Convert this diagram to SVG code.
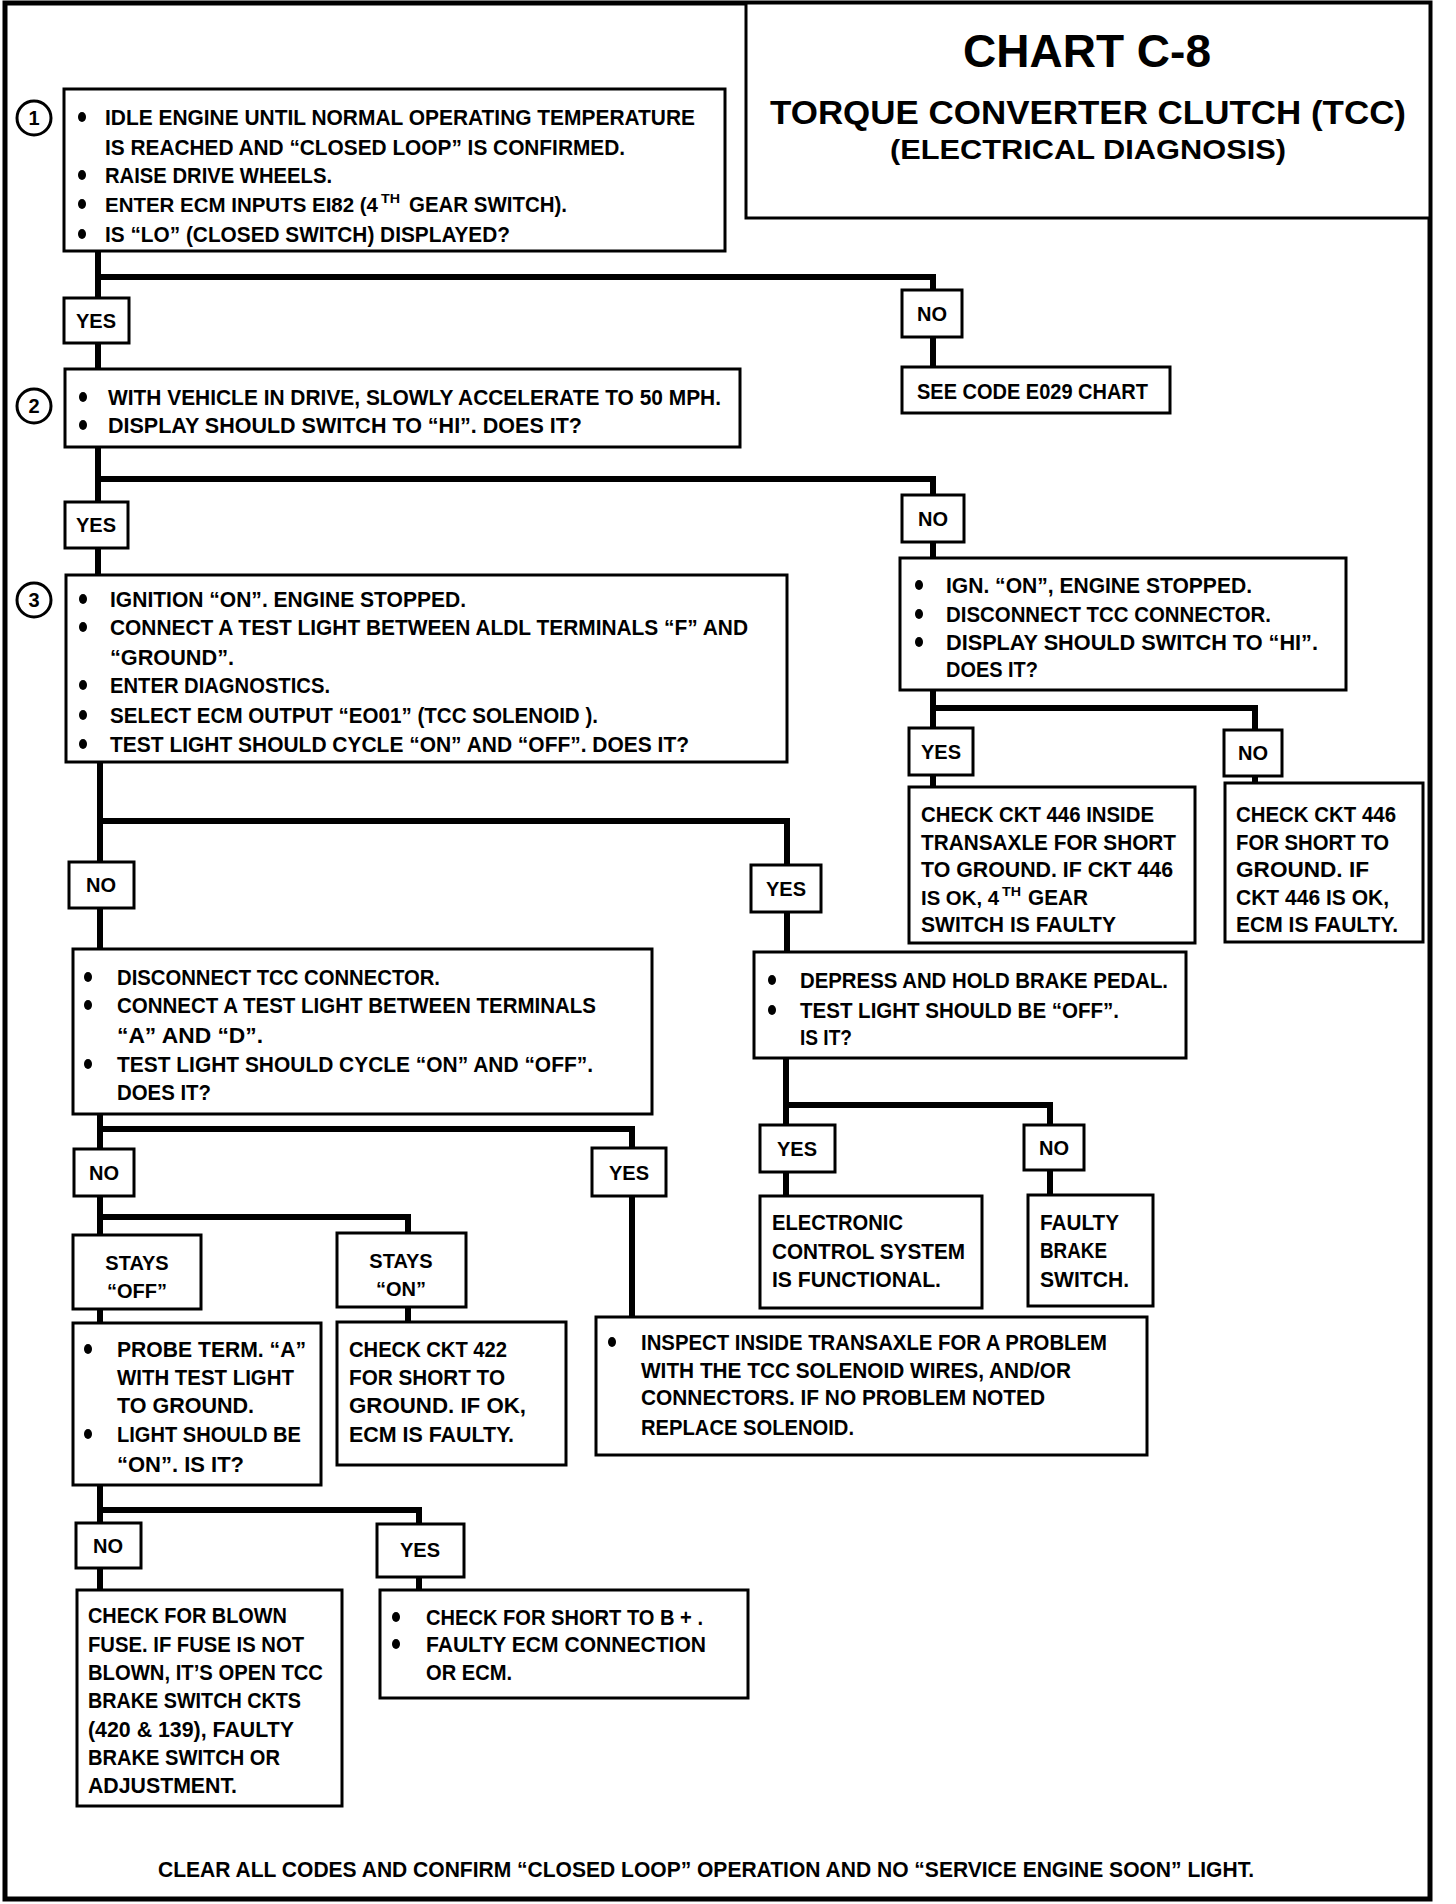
<svg xmlns="http://www.w3.org/2000/svg" width="1456" height="1904" viewBox="0 0 1456 1904">
<style>
.b{fill:#fff;stroke:#000;stroke-width:3}
.c{fill:none;stroke:#000;stroke-width:6;stroke-linecap:square}
text{font-family:"Liberation Sans",Arial,sans-serif;font-weight:bold;font-size:22px;fill:#000}
.l{font-size:20px;text-anchor:middle}
.n{font-size:20px;text-anchor:middle}
.sup{font-size:13px}
</style>
<defs>
<ellipse id="bu" cx="0" cy="0" rx="4" ry="5" fill="#000"/>
</defs>
<rect x="0" y="0" width="1456" height="1904" fill="#fff"/>
<rect x="5" y="3" width="1425" height="1896" fill="none" stroke="#000" stroke-width="5"/>

<g id="connectors">
<path class="c" d="M98,251 V298 M98,277 H933 V290 M98,343 V369 M933,337 V367"/>
<path class="c" d="M98,447 V502 M98,479 H933 V495 M98,548 V575 M933,542 V558"/>
<path class="c" d="M933,690 V728 M933,708 H1255 V730 M933,775 V787 M1255,776 V783"/>
<path class="c" d="M100,762 V862 M100,821 H787 V865 M787,912 V952"/>
<path class="c" d="M786,1058 V1125 M786,1105 H1050 V1125 M786,1172 V1196 M1050,1170 V1195"/>
<path class="c" d="M100,908 V949 M100,1114 V1149 M100,1129 H632 V1148 M632,1196 V1317"/>
<path class="c" d="M100,1196 V1235 M100,1217 H408 V1233 M100,1309 V1323 M408,1307 V1322"/>
<path class="c" d="M100,1485 V1523 M100,1510 H419 V1524 M100,1568 V1590 M419,1577 V1590"/>
</g>

<g id="title">
<rect class="b" x="746" y="3" width="684" height="215"/>
<text x="963" y="67" textLength="248" lengthAdjust="spacingAndGlyphs" style="font-size:46px">CHART C-8</text>
<text x="770" y="124" style="font-size:34px" textLength="636" lengthAdjust="spacingAndGlyphs">TORQUE CONVERTER CLUTCH (TCC)</text>
<text x="890" y="159" style="font-size:28px" textLength="396" lengthAdjust="spacingAndGlyphs">(ELECTRICAL DIAGNOSIS)</text>
</g>

<g id="step1">
<circle cx="34" cy="118" r="17" fill="#fff" stroke="#000" stroke-width="3"/>
<text class="n" x="34" y="125">1</text>
<rect class="b" x="64" y="89" width="661" height="162"/>
<use href="#bu" x="82" y="117"/><use href="#bu" x="82" y="175"/><use href="#bu" x="82" y="204"/><use href="#bu" x="82" y="234"/>
<text x="105" y="125" textLength="590" lengthAdjust="spacingAndGlyphs">IDLE ENGINE UNTIL NORMAL OPERATING TEMPERATURE</text>
<text x="105" y="155" textLength="520" lengthAdjust="spacingAndGlyphs">IS REACHED AND “CLOSED LOOP” IS CONFIRMED.</text>
<text x="105" y="183" textLength="227" lengthAdjust="spacingAndGlyphs">RAISE DRIVE WHEELS.</text>
<text x="105" y="212" style="font-size:20.4px" textLength="273" lengthAdjust="spacingAndGlyphs">ENTER ECM INPUTS EI82 (4</text>
<text class="sup" x="381" y="203" textLength="19" lengthAdjust="spacingAndGlyphs">TH</text>
<text x="409" y="212" textLength="158" lengthAdjust="spacingAndGlyphs">GEAR SWITCH).</text>
<text x="105" y="242" textLength="405" lengthAdjust="spacingAndGlyphs">IS “LO” (CLOSED SWITCH) DISPLAYED?</text>
</g>

<g id="yes1"><rect class="b" x="64" y="298" width="65" height="45"/><text class="l" x="96" y="328">YES</text></g>
<g id="no1"><rect class="b" x="902" y="290" width="60" height="47"/><text class="l" x="932" y="321">NO</text></g>
<g id="seecode"><rect class="b" x="902" y="367" width="268" height="46"/><text x="917" y="399" textLength="231" lengthAdjust="spacingAndGlyphs">SEE CODE E029 CHART</text></g>

<g id="step2">
<circle cx="34" cy="406" r="17" fill="#fff" stroke="#000" stroke-width="3"/>
<text class="n" x="34" y="413">2</text>
<rect class="b" x="65" y="369" width="675" height="78"/>
<use href="#bu" x="83" y="397"/><use href="#bu" x="83" y="425"/>
<text x="108" y="405" textLength="613" lengthAdjust="spacingAndGlyphs">WITH VEHICLE IN DRIVE, SLOWLY ACCELERATE TO 50 MPH.</text>
<text x="108" y="433" textLength="474" lengthAdjust="spacingAndGlyphs">DISPLAY SHOULD  SWITCH TO “HI”. DOES IT?</text>
</g>

<g id="yes2"><rect class="b" x="65" y="502" width="63" height="46"/><text class="l" x="96" y="532">YES</text></g>
<g id="no2"><rect class="b" x="902" y="495" width="62" height="47"/><text class="l" x="933" y="526">NO</text></g>

<g id="ignon">
<rect class="b" x="900" y="558" width="446" height="132"/>
<use href="#bu" x="919" y="585"/><use href="#bu" x="919" y="614"/><use href="#bu" x="919" y="642"/>
<text x="946" y="593" textLength="306" lengthAdjust="spacingAndGlyphs">IGN. “ON”, ENGINE STOPPED.</text>
<text x="946" y="622" textLength="325" lengthAdjust="spacingAndGlyphs">DISCONNECT TCC CONNECTOR.</text>
<text x="946" y="650" textLength="372" lengthAdjust="spacingAndGlyphs">DISPLAY SHOULD  SWITCH TO “HI”.</text>
<text x="946" y="677" textLength="92" lengthAdjust="spacingAndGlyphs">DOES IT?</text>
</g>

<g id="yes3"><rect class="b" x="909" y="728" width="64" height="47"/><text class="l" x="941" y="759">YES</text></g>
<g id="no3"><rect class="b" x="1224" y="730" width="58" height="46"/><text class="l" x="1253" y="760">NO</text></g>

<g id="ckt446a">
<rect class="b" x="909" y="787" width="286" height="156"/>
<text x="921" y="822" textLength="233" lengthAdjust="spacingAndGlyphs">CHECK CKT 446 INSIDE</text>
<text x="921" y="850" textLength="255" lengthAdjust="spacingAndGlyphs">TRANSAXLE FOR  SHORT</text>
<text x="921" y="877" textLength="252" lengthAdjust="spacingAndGlyphs">TO GROUND.  IF CKT 446</text>
<text x="921" y="905" style="font-size:20.4px" textLength="78" lengthAdjust="spacingAndGlyphs">IS OK, 4</text>
<text class="sup" x="1002" y="896" textLength="19" lengthAdjust="spacingAndGlyphs">TH</text>
<text x="1028" y="905" textLength="60" lengthAdjust="spacingAndGlyphs">GEAR</text>
<text x="921" y="932" textLength="195" lengthAdjust="spacingAndGlyphs">SWITCH IS FAULTY</text>
</g>

<g id="ckt446b">
<rect class="b" x="1225" y="783" width="198" height="159"/>
<text x="1236" y="822" textLength="160" lengthAdjust="spacingAndGlyphs">CHECK CKT 446</text>
<text x="1236" y="850" textLength="153" lengthAdjust="spacingAndGlyphs">FOR SHORT TO</text>
<text x="1236" y="877" textLength="133" lengthAdjust="spacingAndGlyphs">GROUND.  IF</text>
<text x="1236" y="905" textLength="153" lengthAdjust="spacingAndGlyphs">CKT 446 IS OK,</text>
<text x="1236" y="932" textLength="162" lengthAdjust="spacingAndGlyphs">ECM IS FAULTY.</text>
</g>

<g id="step3">
<circle cx="34" cy="600" r="17" fill="#fff" stroke="#000" stroke-width="3"/>
<text class="n" x="34" y="607">3</text>
<rect class="b" x="66" y="575" width="721" height="187"/>
<use href="#bu" x="83" y="599"/><use href="#bu" x="83" y="627"/><use href="#bu" x="83" y="685"/><use href="#bu" x="83" y="715"/><use href="#bu" x="83" y="744"/>
<text x="110" y="607" textLength="356" lengthAdjust="spacingAndGlyphs">IGNITION “ON”. ENGINE  STOPPED.</text>
<text x="110" y="635" textLength="638" lengthAdjust="spacingAndGlyphs">CONNECT A TEST LIGHT BETWEEN ALDL TERMINALS  “F” AND</text>
<text x="110" y="665" textLength="124" lengthAdjust="spacingAndGlyphs">“GROUND”.</text>
<text x="110" y="693" textLength="220" lengthAdjust="spacingAndGlyphs">ENTER DIAGNOSTICS.</text>
<text x="110" y="723" textLength="488" lengthAdjust="spacingAndGlyphs">SELECT ECM OUTPUT “EO01” (TCC SOLENOID ).</text>
<text x="110" y="752" textLength="579" lengthAdjust="spacingAndGlyphs">TEST LIGHT SHOULD CYCLE “ON” AND “OFF”. DOES IT?</text>
</g>

<g id="no4"><rect class="b" x="69" y="862" width="65" height="46"/><text class="l" x="101" y="892">NO</text></g>
<g id="yes4"><rect class="b" x="751" y="865" width="70" height="47"/><text class="l" x="786" y="896">YES</text></g>

<g id="depress">
<rect class="b" x="754" y="952" width="432" height="106"/>
<use href="#bu" x="772" y="980"/><use href="#bu" x="772" y="1010"/>
<text x="800" y="988" textLength="368" lengthAdjust="spacingAndGlyphs">DEPRESS AND HOLD BRAKE PEDAL.</text>
<text x="800" y="1018" textLength="319" lengthAdjust="spacingAndGlyphs">TEST LIGHT SHOULD BE “OFF”.</text>
<text x="800" y="1045" textLength="52" lengthAdjust="spacingAndGlyphs">IS IT?</text>
</g>

<g id="yes5"><rect class="b" x="760" y="1125" width="75" height="47"/><text class="l" x="797" y="1156">YES</text></g>
<g id="no5"><rect class="b" x="1024" y="1125" width="60" height="45"/><text class="l" x="1054" y="1155">NO</text></g>

<g id="electronic">
<rect class="b" x="760" y="1196" width="222" height="112"/>
<text x="772" y="1230" textLength="131" lengthAdjust="spacingAndGlyphs">ELECTRONIC</text>
<text x="772" y="1259" textLength="193" lengthAdjust="spacingAndGlyphs">CONTROL SYSTEM</text>
<text x="772" y="1287" textLength="169" lengthAdjust="spacingAndGlyphs">IS FUNCTIONAL.</text>
</g>

<g id="faulty">
<rect class="b" x="1028" y="1195" width="125" height="111"/>
<text x="1040" y="1230" textLength="79" lengthAdjust="spacingAndGlyphs">FAULTY</text>
<text x="1040" y="1258" textLength="67" lengthAdjust="spacingAndGlyphs">BRAKE</text>
<text x="1040" y="1287" textLength="89" lengthAdjust="spacingAndGlyphs">SWITCH.</text>
</g>

<g id="disconnect">
<rect class="b" x="73" y="949" width="579" height="165"/>
<use href="#bu" x="88" y="977"/><use href="#bu" x="88" y="1005"/><use href="#bu" x="88" y="1064"/>
<text x="117" y="985" textLength="323" lengthAdjust="spacingAndGlyphs">DISCONNECT TCC CONNECTOR.</text>
<text x="117" y="1013" textLength="479" lengthAdjust="spacingAndGlyphs">CONNECT A TEST LIGHT BETWEEN TERMINALS</text>
<text x="117" y="1043" textLength="146" lengthAdjust="spacingAndGlyphs">“A” AND “D”.</text>
<text x="117" y="1072" textLength="476" lengthAdjust="spacingAndGlyphs">TEST LIGHT SHOULD CYCLE “ON” AND “OFF”.</text>
<text x="117" y="1100" textLength="94" lengthAdjust="spacingAndGlyphs">DOES IT?</text>
</g>

<g id="no6"><rect class="b" x="74" y="1149" width="60" height="47"/><text class="l" x="104" y="1180">NO</text></g>
<g id="yes6"><rect class="b" x="592" y="1148" width="74" height="48"/><text class="l" x="629" y="1180">YES</text></g>

<g id="staysoff"><rect class="b" x="73" y="1235" width="128" height="74"/><text class="l" x="137" y="1270">STAYS</text><text class="l" x="137" y="1298">“OFF”</text></g>
<g id="stayson"><rect class="b" x="337" y="1233" width="129" height="74"/><text class="l" x="401" y="1268">STAYS</text><text class="l" x="401" y="1296">“ON”</text></g>

<g id="inspect">
<rect class="b" x="596" y="1317" width="551" height="138"/>
<use href="#bu" x="612" y="1342"/>
<text x="641" y="1350" textLength="466" lengthAdjust="spacingAndGlyphs">INSPECT INSIDE TRANSAXLE FOR A PROBLEM</text>
<text x="641" y="1378" textLength="430" lengthAdjust="spacingAndGlyphs">WITH THE TCC SOLENOID WIRES, AND/OR</text>
<text x="641" y="1405" textLength="404" lengthAdjust="spacingAndGlyphs">CONNECTORS.  IF NO PROBLEM NOTED</text>
<text x="641" y="1435" textLength="213" lengthAdjust="spacingAndGlyphs">REPLACE SOLENOID.</text>
</g>

<g id="probe">
<rect class="b" x="73" y="1323" width="248" height="162"/>
<use href="#bu" x="88" y="1349"/><use href="#bu" x="88" y="1434"/>
<text x="117" y="1357" textLength="189" lengthAdjust="spacingAndGlyphs">PROBE TERM.  “A”</text>
<text x="117" y="1385" textLength="177" lengthAdjust="spacingAndGlyphs">WITH TEST LIGHT</text>
<text x="117" y="1413" textLength="137" lengthAdjust="spacingAndGlyphs">TO GROUND.</text>
<text x="117" y="1442" textLength="184" lengthAdjust="spacingAndGlyphs">LIGHT SHOULD BE</text>
<text x="117" y="1472" textLength="127" lengthAdjust="spacingAndGlyphs">“ON”.  IS IT?</text>
</g>

<g id="ckt422">
<rect class="b" x="337" y="1322" width="229" height="143"/>
<text x="349" y="1357" textLength="158" lengthAdjust="spacingAndGlyphs">CHECK CKT 422</text>
<text x="349" y="1385" textLength="156" lengthAdjust="spacingAndGlyphs">FOR SHORT TO</text>
<text x="349" y="1413" textLength="177" lengthAdjust="spacingAndGlyphs">GROUND.  IF OK,</text>
<text x="349" y="1442" textLength="165" lengthAdjust="spacingAndGlyphs">ECM IS FAULTY.</text>
</g>

<g id="no7"><rect class="b" x="76" y="1523" width="65" height="45"/><text class="l" x="108" y="1553">NO</text></g>
<g id="yes7"><rect class="b" x="377" y="1524" width="87" height="53"/><text class="l" x="420" y="1557">YES</text></g>

<g id="blown">
<rect class="b" x="77" y="1590" width="265" height="216"/>
<text x="88" y="1623" textLength="199" lengthAdjust="spacingAndGlyphs">CHECK FOR BLOWN</text>
<text x="88" y="1652" textLength="216" lengthAdjust="spacingAndGlyphs">FUSE.  IF FUSE IS NOT</text>
<text x="88" y="1680" textLength="235" lengthAdjust="spacingAndGlyphs">BLOWN, IT’S OPEN TCC</text>
<text x="88" y="1708" textLength="213" lengthAdjust="spacingAndGlyphs">BRAKE SWITCH CKTS</text>
<text x="88" y="1737" textLength="206" lengthAdjust="spacingAndGlyphs">(420 &amp; 139), FAULTY</text>
<text x="88" y="1765" textLength="192" lengthAdjust="spacingAndGlyphs">BRAKE SWITCH OR</text>
<text x="88" y="1793" textLength="149" lengthAdjust="spacingAndGlyphs">ADJUSTMENT.</text>
</g>

<g id="shortb">
<rect class="b" x="380" y="1590" width="368" height="108"/>
<use href="#bu" x="396" y="1617"/><use href="#bu" x="396" y="1644"/>
<text x="426" y="1625" textLength="277" lengthAdjust="spacingAndGlyphs">CHECK FOR SHORT TO B + .</text>
<text x="426" y="1652" textLength="280" lengthAdjust="spacingAndGlyphs">FAULTY ECM CONNECTION</text>
<text x="426" y="1680" textLength="86" lengthAdjust="spacingAndGlyphs">OR ECM.</text>
</g>

<g id="footer">
<text x="158" y="1877" textLength="1096" lengthAdjust="spacingAndGlyphs">CLEAR  ALL  CODES AND CONFIRM “CLOSED LOOP” OPERATION AND NO “SERVICE ENGINE SOON” LIGHT.</text>
</g>
</svg>
